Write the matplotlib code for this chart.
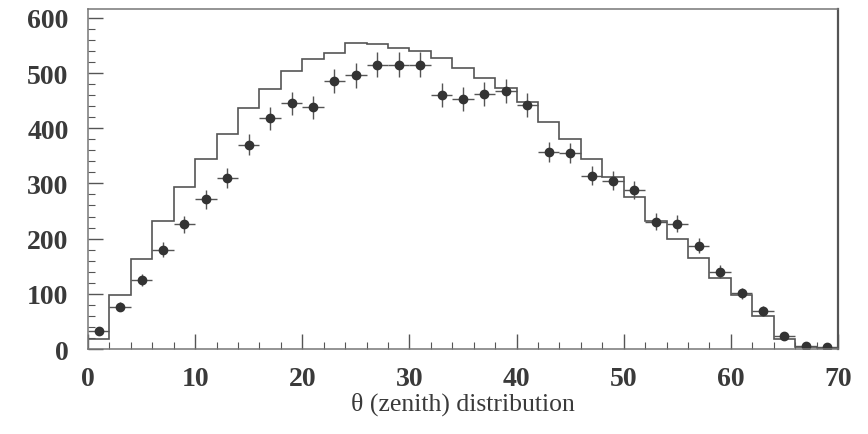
import numpy as np
import matplotlib
matplotlib.use("Agg")
import matplotlib.pyplot as plt
from matplotlib.ticker import MultipleLocator

# bin edges (degrees) and simulated histogram contents
bin_edges = list(range(0, 72, 2))
mc_counts = [18, 98, 163, 232, 294, 344, 389, 436, 471, 504, 525, 537, 554, 552,
             545, 540, 527, 509, 491, 472, 448, 412, 380, 344, 312, 275, 232, 199,
             165, 129, 97, 60, 18, 4, 2]
# measured data at bin centres
data_x = list(range(1, 70, 2))
data_y = [33, 77, 125, 180, 226, 271, 310, 370, 418, 445, 438, 486, 496, 515, 515,
          515, 460, 453, 462, 468, 442, 357, 355, 314, 305, 288, 231, 227, 187, 140,
          101, 69, 23, 6, 3]

x_label = "θ (zenith) distribution"

plt.rcParams['font.family'] = ['Liberation Serif', 'DejaVu Serif']

fig = plt.figure(figsize=(8.68, 4.35), dpi=100)
ax = fig.add_axes([0.1014, 0.1954, 0.864, 0.7816])

ax.stairs(mc_counts, bin_edges, color='#555555', linewidth=1.2)

yerr = np.sqrt(np.array(data_y, dtype=float))
ax.errorbar(data_x, data_y, yerr=yerr, xerr=1.0, fmt='o', color='#333333',
            ecolor='#555555', elinewidth=1.0, markersize=6, capsize=0)

ax.set_xlim(0, 70)
ax.set_ylim(0, 616)
ax.xaxis.set_major_locator(MultipleLocator(10))
ax.xaxis.set_minor_locator(MultipleLocator(2))
ax.yaxis.set_major_locator(MultipleLocator(100))
ax.yaxis.set_minor_locator(MultipleLocator(20))
ax.tick_params(axis='both', which='major', direction='in', length=11, width=1.0,
               labelsize=20, color='#555555')
ax.tick_params(axis='both', which='minor', direction='in', length=5, width=0.8,
               color='#555555')
ax.tick_params(axis='x', which='major', pad=12)
ax.tick_params(axis='y', which='major', pad=14)
for lab in ax.get_xticklabels() + ax.get_yticklabels():
    lab.set_fontweight('bold')
    lab.set_color('#3a3a3a')

for side in ['left', 'bottom', 'top', 'right']:
    ax.spines[side].set_color('#777777')
    ax.spines[side].set_linewidth(1.1)
ax.spines['right'].set_color('#555555')
ax.spines['right'].set_linewidth(1.6)

ax.set_xlabel(x_label, fontsize=18.5, color='#3a3a3a', labelpad=1)

fig.savefig("out.png", dpi=100)
